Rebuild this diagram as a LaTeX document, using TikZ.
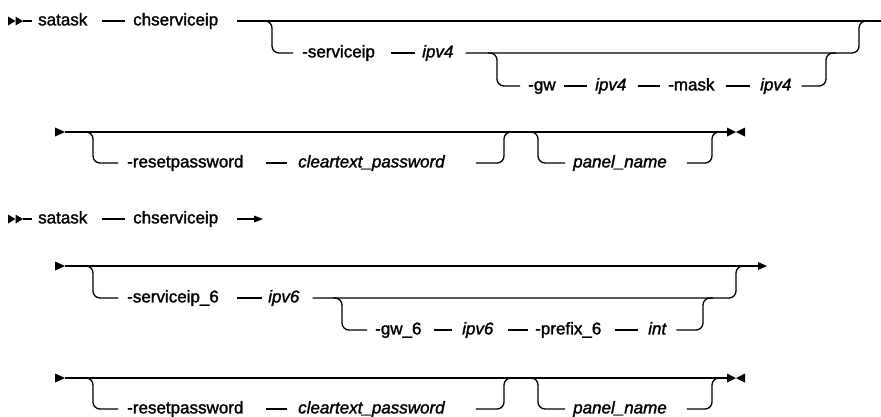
\documentclass[tikz,border=0pt]{standalone}
\usepackage{fontspec}
\setmainfont{Liberation Sans}
\newfontfamily\medup[FakeBold=1.6]{Liberation Sans}
\newfontfamily\medit[FakeBold=1.6]{Liberation Sans Italic}
\newcommand\kwfont{\fontsize{17}{20}\selectfont\medup}
\newcommand\varfont{\fontsize{17}{20}\selectfont\medit}
\tikzset{
  ln/.style={line width=1.3pt},
  rr/.style={line width=1.3pt, rounded corners=7pt},
  kw/.style={font=\kwfont, inner sep=0pt, text height=8.8pt, text depth=0pt, anchor=west},
  var/.style={kw, font=\varfont},
}
\begin{document}
\begin{tikzpicture}[x=1pt,y=-1pt]
\useasboundingbox (0,0) rectangle (881,416);
% ---------------- Row 1 ----------------
\fill (8,16.5) -- (15.5,21) -- (8,25.5) -- cycle;
\fill (15.5,16.5) -- (23,21) -- (15.5,25.5) -- cycle;
\node[kw] (sat1) at (38,21) {satask};
\node[kw] (ch1) at (133,21) {chserviceip};
\coordinate (e1) at (881,21);
\draw[ln] (23,21) -- ([xshift=-6pt]sat1.west);
\draw[ln] ([xshift=14pt]sat1.east) -- ([xshift=-8pt]ch1.west);
\draw[ln] ([xshift=19pt]ch1.east) -- (e1);
\node[kw] (svc) at (302,53) {-serviceip};
\node[var] (ip1) at (422,53) {ipv4};
\draw[rr] (262,21) -- (272,21) -- (272,53) -- ([xshift=-9pt]svc.west);
\draw[ln] ([xshift=16pt]svc.east) -- ([xshift=-7pt]ip1.west);
\draw[rr] ([xshift=12pt]ip1.east) -- (859,53) -- (859,21) -- (869,21);
\node[kw] (gw) at (528,86) {-gw};
\node[var] (ip2) at (595,86) {ipv4};
\node[kw] (mask) at (668,86) {-mask};
\node[var] (ip3) at (760,86) {ipv4};
\draw[rr] (488,53) -- (497,53) -- (497,86) -- ([xshift=-8pt]gw.west);
\draw[ln] ([xshift=8pt]gw.east) -- ([xshift=-8pt]ip2.west);
\draw[ln] ([xshift=11pt]ip2.east) -- ([xshift=-8pt]mask.west);
\draw[ln] ([xshift=11pt]mask.east) -- ([xshift=-10pt]ip3.west);
\draw[rr] ([xshift=10pt]ip3.east) -- (826,86) -- (826,53) -- (836,53);
% ---------------- Row 2 ----------------
\fill (55,127.5) -- (65,132) -- (55,136.5) -- cycle;
\coordinate (e2) at (727,132);
\draw[ln] (65,132) -- (e2);
\fill (727,127.5) -- (736,132) -- (727,136.5) -- cycle;
\fill (745,127.5) -- (736,132) -- (745,136.5) -- cycle;
\node[kw] (rp1) at (127,163) {-resetpassword};
\node[var] (ct1) at (298,163) {cleartext\_password};
\draw[rr] (84,132) -- (93,132) -- (93,163) -- ([xshift=-9pt]rp1.west);
\draw[ln] ([xshift=22pt]rp1.east) -- ([xshift=-11pt]ct1.west);
\draw[rr] ([xshift=31pt]ct1.east) -- (504,163) -- (504,132) -- (514,132);
\node[var] (pn1) at (573,163) {panel\_name};
\draw[rr] (528,132) -- (538,132) -- (538,163) -- ([xshift=-8pt]pn1.west);
\draw[rr] ([xshift=20pt]pn1.east) -- (712,163) -- (712,132) -- (722,132);
% ---------------- Row 3 ----------------
\fill (8,214.5) -- (15.5,219) -- (8,223.5) -- cycle;
\fill (15.5,214.5) -- (23,219) -- (15.5,223.5) -- cycle;
\node[kw] (sat2) at (38,219) {satask};
\node[kw] (ch2) at (133,219) {chserviceip};
\coordinate (a3) at (263,219);
\draw[ln] (23,219) -- ([xshift=-6pt]sat2.west);
\draw[ln] ([xshift=14pt]sat2.east) -- ([xshift=-8pt]ch2.west);
\draw[ln] ([xshift=19pt]ch2.east) -- (254,219);
\fill (254,215.5) -- (a3) -- (254,222.5) -- cycle;
% ---------------- Row 4 ----------------
\fill (55,261.5) -- (65,266) -- (55,270.5) -- cycle;
\coordinate (e4) at (758,266);
\draw[ln] (65,266) -- (e4);
\fill (758,262) -- (767,266) -- (758,270) -- cycle;
\node[kw] (s6) at (127,298) {-serviceip\_6};
\node[var] (ip6a) at (268,298) {ipv6};
\draw[rr] (84,266) -- (93,266) -- (93,298) -- ([xshift=-9pt]s6.west);
\draw[ln] ([xshift=18pt]s6.east) -- ([xshift=-6pt]ip6a.west);
\draw[rr] ([xshift=13pt]ip6a.east) -- (736,298) -- (736,266) -- (746,266);
\node[kw] (gw6) at (375,330) {-gw\_6};
\node[var] (ip6b) at (462,330) {ipv6};
\node[kw] (pf) at (535,330) {-prefix\_6};
\node[var] (int) at (648,330) {int};
\draw[rr] (333,298) -- (342,298) -- (342,330) -- ([xshift=-8pt]gw6.west);
\draw[ln] ([xshift=12pt]gw6.east) -- ([xshift=-10pt]ip6b.west);
\draw[ln] ([xshift=14pt]ip6b.east) -- ([xshift=-7pt]pf.west);
\draw[ln] ([xshift=13pt]pf.east) -- ([xshift=-10pt]int.west);
\draw[rr] ([xshift=10pt]int.east) -- (703,330) -- (703,298) -- (713,298);
% ---------------- Row 5 ----------------
\fill (55,373.5) -- (65,378) -- (55,382.5) -- cycle;
\coordinate (e5) at (727,378);
\draw[ln] (65,378) -- (e5);
\fill (727,373.5) -- (736,378) -- (727,382.5) -- cycle;
\fill (745,373.5) -- (736,378) -- (745,382.5) -- cycle;
\node[kw] (rp2) at (127,409) {-resetpassword};
\node[var] (ct2) at (298,409) {cleartext\_password};
\draw[rr] (84,378) -- (93,378) -- (93,409) -- ([xshift=-9pt]rp2.west);
\draw[ln] ([xshift=22pt]rp2.east) -- ([xshift=-11pt]ct2.west);
\draw[rr] ([xshift=31pt]ct2.east) -- (504,409) -- (504,378) -- (514,378);
\node[var] (pn2) at (573,409) {panel\_name};
\draw[rr] (528,378) -- (538,378) -- (538,409) -- ([xshift=-8pt]pn2.west);
\draw[rr] ([xshift=20pt]pn2.east) -- (712,409) -- (712,378) -- (722,378);
\end{tikzpicture}
\end{document}
